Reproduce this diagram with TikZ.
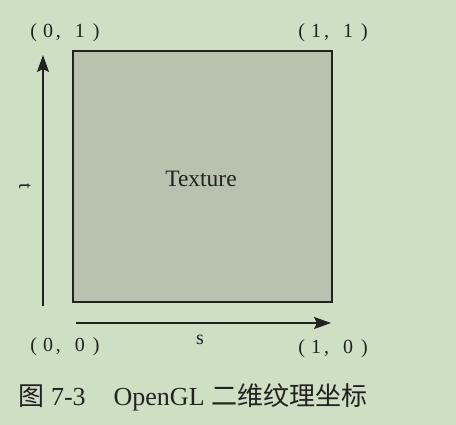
\documentclass[tikz,border=0pt]{standalone}
\usepackage{fontspec}
\setmainfont{Liberation Serif}
\newfontfamily\cjk{Noto Sans CJK SC}
\usepackage{tikz}
\usetikzlibrary{positioning,arrows.meta}
\definecolor{pagegreen}{HTML}{CEDFC3}
\definecolor{texgray}{HTML}{B7C3AE}
\definecolor{inkdark}{HTML}{222222}
\newcommand{\uvlabel}[2]{(\hspace{6pt}#1\hspace{3pt},\hspace{14pt}#2\hspace{8pt})}

\begin{document}
\begin{tikzpicture}[x=1pt, y=-1pt,
    corner/.style={font=\fontsize{20}{20}\selectfont, text=inkdark},
    axis/.style={line width=1.8pt, draw=inkdark, -{Stealth[length=17pt, width=12pt, inset=3pt]}}]
  % page background
  \fill[pagegreen] (0,0) rectangle (456,425);
  \useasboundingbox (0,0) rectangle (456,425);
  % texture square
  \node[draw=inkdark, fill=texgray, line width=1.6pt, inner sep=0pt,
        minimum width=259pt, minimum height=251pt, anchor=north west] (tex) at (72,50) {};
  \node[font=\fontsize{23.5}{23.5}\selectfont, text=inkdark] (texname) at (201,179) {Texture};
  % axes
  \coordinate (tfoot) at (43,306);
  \coordinate (ttip) at (43,55);
  \coordinate (sfoot) at (76,323);
  \coordinate (stip) at (331,323);
  \draw[axis] (tfoot) -- (ttip);
  \draw[axis] (sfoot) -- (stip);
  \node[font=\fontsize{20}{20}\selectfont, text=inkdark, rotate=-90] (tname) at (25,186) {t};
  \node[font=\fontsize{20}{20}\selectfont, text=inkdark] (sname) at (200,340) {s};
  % corner coordinates
  \node[corner] (c01) at (65,33) {\uvlabel{0}{1}};
  \node[corner] (c11) at (333,33) {\uvlabel{1}{1}};
  \node[corner] (c00) at (65,347) {\uvlabel{0}{0}};
  \node[corner] (c10) at (333,349) {\uvlabel{1}{0}};
  % caption
  \node[anchor=west, font=\fontsize{26}{26}\selectfont, text=inkdark] (caption) at (15,397)
    {{\cjk 图} 7-3\hspace{28pt}OpenGL {\cjk 二维纹理坐标}};
\end{tikzpicture}
\end{document}
